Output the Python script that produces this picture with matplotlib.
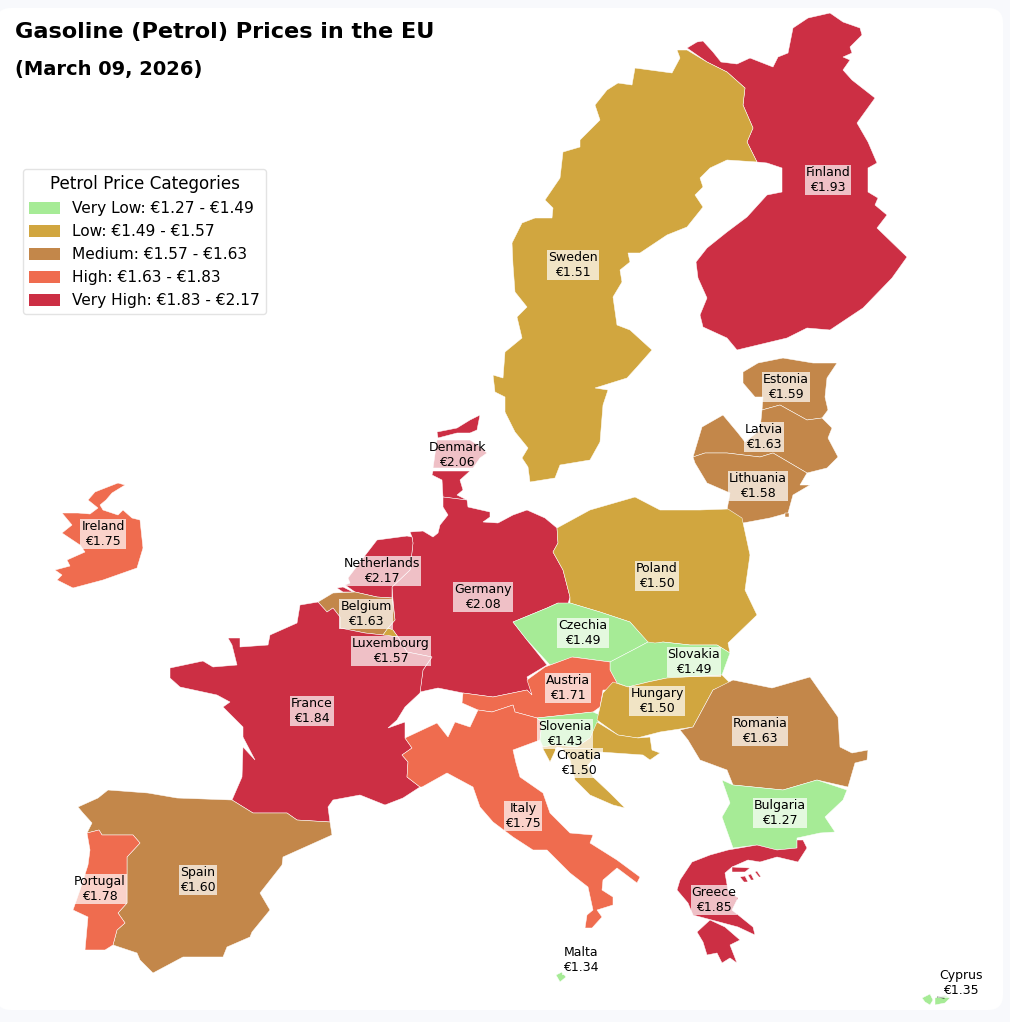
import matplotlib.pyplot as plt
from matplotlib.patches import FancyBboxPatch, Patch
import numpy as np

# outlines, in pixels of the 1010x1022 image
finland = [[(687,48),(697,42),(703,41),(713,52),(721,62),(737,64),(750,58),(773,67),(778,57),(788,53),(793,28),(808,18),(830,13),(843,22),(860,28),(862,35),(850,47),(852,53),(843,57),(850,60),(843,70),(852,80),(875,98),(857,123),(868,142),(877,163),(868,168),(868,192),(878,198),(875,205),(887,215),(877,228),(907,257),(892,278),(863,308),(830,330),(807,328),(787,338),(737,350),(727,338),(703,327),(700,315),(707,298),(698,278),(696,262),(707,248),(727,232),(747,217),(767,195),(782,192),(782,168),(767,163),(757,162),(747,142),(753,128),(743,105),(745,88),(727,72),(707,62)]]
sweden = [[(677,50),(687,50),(707,62),(727,72),(745,88),(743,105),(753,128),(747,142),(757,162),(727,160),(710,168),(700,178),(703,187),(695,195),(703,207),(687,227),(667,235),(640,253),(628,253),(630,262),(620,270),(622,282),(613,297),(617,325),(630,330),(652,350),(637,367),(627,378),(595,388),(608,390),(603,405),(600,442),(590,460),(560,465),(555,478),(530,482),(528,467),(522,458),(528,448),(515,432),(505,412),(505,397),(495,392),(493,375),(503,378),(505,352),(522,338),(517,317),(527,307),(515,292),(513,265),(512,243),(522,223),(535,218),(552,218),(553,208),(545,200),(560,178),(563,152),(580,147),(580,140),(600,120),(595,105),(607,90),(618,83),(632,85),(635,68),(672,73),(680,58)]]
estonia = [[(743,372),(758,363),(783,358),(813,363),(837,363),(827,378),(825,397),(828,410),(822,418),(807,420),(780,405),(762,410),(763,397),(755,397),(743,383)]]
latvia = [[(693,457),(702,427),(723,415),(738,433),(745,442),(760,430),(762,410),(780,405),(807,420),(822,418),(832,428),(828,438),(838,457),(827,468),(807,473),(773,453),(760,457),(727,453),(705,453)]]
lithuania = [[(693,457),(705,453),(727,453),(760,457),(773,453),(807,473),(800,485),(810,485),(793,495),(788,513),(770,518),(743,523),(727,510),(730,493),(707,483),(695,463)],
             [(785,513),(789,513),(789,517),(785,517)]]
denmark = [[(480,415),(477,430),(470,433),(457,433),(438,438),(437,432),(457,428),(470,420)],
           [(437,440),(470,440),(478,445),(487,453),(480,458),(473,468),(433,468)],
           [(433,471),(470,471),(460,480),(463,490),(457,495),(467,500),(443,497),(442,480),(432,475)]]
germany = [[(443,497),(467,500),(468,507),(490,512),(490,517),(483,522),(498,523),(513,515),(527,510),(545,518),(557,528),(558,543),(553,552),(563,570),(570,597),(567,607),(558,603),(547,608),(513,622),(527,640),(547,665),(527,677),(532,695),(527,690),(493,697),(478,695),(463,693),(438,688),(420,692),(423,670),(432,657),(407,652),(398,637),(393,630),(388,628),(395,620),(393,600),(392,587),(410,570),(413,543),(412,537),(410,532),(423,531),(433,537),(438,533),(440,525),(448,515),(443,507)]]
netherlands = [[(412,537),(407,536),(377,540),(367,553),(348,578),(350,583),(345,585),(355,592),(377,597),(392,598),(392,587),(410,570),(413,543)],
               [(337,588),(343,587),(353,592),(343,592)]]
belgium = [[(318,602),(333,593),(355,592),(377,597),(392,598),(395,620),(388,628),(383,635),(365,633),(340,628),(340,617),(333,608),(327,612)]]
luxembourg = [[(383,635),(388,628),(393,630),(398,637)]]
france = [[(170,668),(203,661),(213,667),(237,665),(232,645),(228,638),(240,638),(240,647),(268,645),(270,635),(297,623),(300,605),(318,602),(327,612),(333,608),(340,617),(340,628),(365,633),(383,635),(398,637),(407,652),(432,657),(423,670),(420,693),(405,707),(397,720),(388,728),(405,722),(405,738),(412,748),(402,755),(408,762),(407,777),(420,787),(403,798),(385,805),(360,795),(333,800),(328,807),(330,822),(297,820),(287,813),(253,813),(232,800),(242,777),(243,747),(255,760),(243,737),(243,727),(223,707),(230,702),(217,695),(180,687),(170,678)]]
spain = [[(78,807),(98,798),(108,790),(148,793),(177,798),(232,800),(253,813),(287,813),(297,820),(330,822),(332,835),(283,857),(282,865),(260,893),(270,910),(252,932),(250,937),(227,947),(223,957),(183,957),(153,973),(140,960),(137,953),(113,945),(117,930),(125,923),(118,913),(127,903),(127,857),(140,843),(133,835),(102,835),(99,830),(87,833),(92,823),(83,813)]]
portugal = [[(87,833),(99,830),(102,835),(133,835),(140,843),(127,857),(127,903),(118,913),(125,923),(117,930),(113,945),(105,950),(85,950),(88,917),(73,910),(80,890),(88,865),(90,850)]]
ireland = [[(100,490),(118,483),(125,485),(112,493),(106,500),(100,505),(103,510),(118,515),(123,510),(132,518),(140,520),(143,548),(137,568),(103,580),(73,588),(57,580),(62,575),(55,570),(70,566),(67,560),(85,552),(80,545),(62,533),(72,525),(62,513),(78,513),(90,514),(98,508),(88,500),(95,492)]]
poland = [[(557,528),(590,510),(635,497),(660,510),(700,510),(728,509),(742,518),(750,555),(745,590),(757,615),(728,643),(730,653),(717,645),(690,645),(663,642),(650,645),(630,622),(600,612),(570,603),(570,597),(563,570),(553,552),(558,543)]]
czechia = [[(513,622),(547,608),(558,603),(570,603),(600,612),(630,622),(648,642),(633,650),(610,662),(573,657),(550,665),(527,640)]]
slovakia = [[(610,662),(633,650),(648,642),(655,643),(663,642),(690,645),(717,645),(730,653),(722,675),(667,678),(648,682),(628,687),(617,683),(610,670)]]
austria = [[(463,693),(478,695),(493,697),(527,690),(532,695),(527,680),(545,667),(572,657),(610,662),(610,670),(617,683),(613,690),(603,690),(600,707),(593,712),(537,718),(515,712),(513,705),(492,712),(478,710),(462,703)]]
italy = [[(405,738),(437,723),(448,737),(455,722),(470,727),(478,710),(492,712),(513,705),(515,712),(537,718),(542,722),(540,740),(513,750),(516,763),(520,777),(543,793),(550,813),(570,833),(593,835),(590,843),(617,860),(640,877),(637,883),(617,868),(603,880),(602,890),(613,897),(613,905),(597,910),(602,917),(592,928),(585,928),(587,915),(593,910),(588,887),(570,873),(547,850),(533,850),(513,837),(493,822),(480,807),(473,787),(447,773),(422,787),(420,787),(407,777),(408,762),(402,755),(412,748)]]
slovenia = [[(537,718),(593,712),(600,715),(597,725),(590,738),(577,747),(555,745),(543,747),(540,740),(542,722)]]
hungary = [[(613,682),(628,687),(648,682),(667,678),(722,675),(730,683),(713,690),(693,727),(660,732),(637,738),(618,735),(597,720),(600,707),(603,693)]]
croatia = [[(577,747),(590,738),(597,722),(618,735),(638,738),(650,737),(652,750),(660,753),(650,760),(643,755),(600,752),(588,765),(593,777),(610,793),(625,808),(613,805),(590,795),(575,780),(570,760),(562,748),(557,747),(550,762),(542,747),(555,745)]]
romania = [[(733,680),(772,688),(810,677),(838,717),(840,747),(852,753),(868,750),(867,760),(855,763),(848,787),(817,780),(783,790),(733,785),(727,770),(700,760),(688,740),(680,730),(693,727),(713,690)]]
bulgaria = [[(722,780),(733,785),(783,790),(817,780),(847,790),(843,800),(825,817),(835,832),(820,833),(797,838),(797,848),(777,850),(757,845),(733,848),(722,817),(730,803)]]
greece = [[(728,850),(757,845),(777,850),(797,848),(797,840),(803,840),(807,848),(798,862),(777,857),(760,862),(748,860),(732,867),(725,873),(728,890),(738,898),(732,910),(753,927),(755,935),(738,927),(693,915),(688,903),(677,890),(680,880),(692,862),(710,855)],
          [(697,932),(710,920),(725,927),(740,940),(730,945),(737,963),(730,958),(722,963),(717,953),(707,955),(703,942)],
          [(732,867),(750,868),(745,872),(732,872)],
          [(740,877),(745,876),(748,882),(744,882)],
          [(748,875),(751,874),(754,880),(751,880)],
          [(755,872),(757,871),(761,877),(759,877)]]
malta = [[(556,975),(562,972),(566,977),(560,982)]]
cyprus = [[(922,998),(930,994),(933,1000),(930,1005),(925,1002)],
          [(935,998),(945,995),(950,998),(945,1003),(935,1005)]]

countries = ['Finland', 'Sweden', 'Estonia', 'Latvia', 'Lithuania', 'Denmark', 'Germany', 'Netherlands', 'Belgium',
             'Luxembourg', 'France', 'Spain', 'Portugal', 'Ireland', 'Poland', 'Czechia', 'Slovakia', 'Austria',
             'Italy', 'Slovenia', 'Hungary', 'Croatia', 'Romania', 'Bulgaria', 'Greece', 'Malta', 'Cyprus']
prices = [1.93, 1.51, 1.59, 1.63, 1.58, 2.06, 2.08, 2.17, 1.63,
          1.57, 1.84, 1.60, 1.78, 1.75, 1.50, 1.49, 1.49, 1.71,
          1.75, 1.43, 1.50, 1.50, 1.63, 1.27, 1.85, 1.34, 1.35]
outlines = [finland, sweden, estonia, latvia, lithuania, denmark, germany, netherlands, belgium,
            luxembourg, france, spain, portugal, ireland, poland, czechia, slovakia, austria,
            italy, slovenia, hungary, croatia, romania, bulgaria, greece, malta, cyprus]
label_x = [828, 573, 786, 764, 758, 457, 483, 382, 366, 391, 312, 198, 100, 103, 657, 583, 694, 568, 523, 565, 657, 579, 760, 780, 714, 581, 961]
label_y = [180, 265, 387, 437, 486, 455, 597, 571, 614, 651, 711, 880, 889, 534, 576, 633, 662, 688, 816, 734, 701, 763, 731, 813, 900, 960, 983]

bin_edges = [1.49, 1.57, 1.63, 1.83]
category_names = ['Very Low: €1.27 - €1.49', 'Low: €1.49 - €1.57', 'Medium: €1.57 - €1.63',
                  'High: €1.63 - €1.83', 'Very High: €1.83 - €2.17']
category_colors = ['#a6eb96', '#d1a63f', '#c3874a', '#ef6c4f', '#cc2f44']

fig = plt.figure(figsize=(10.10, 10.22), dpi=100, facecolor='#f8f9fc')
ax = fig.add_axes([0, 0, 1, 1])
ax.set_xlim(0, 1010)
ax.set_ylim(1022, 0)
ax.axis('off')

# white card behind the map
ax.add_patch(FancyBboxPatch((-4, 8), 1007, 1002, boxstyle='round,pad=0,rounding_size=15',
                            facecolor='white', edgecolor='none', zorder=0))

for rings, price in zip(outlines, prices):
    color = category_colors[np.searchsorted(bin_edges, price, side='left')]
    for ring in rings:
        xs, ys = zip(*ring)
        ax.fill(xs, ys, facecolor=color, edgecolor='white', linewidth=0.35, zorder=2)

for name, price, x, y in zip(countries, prices, label_x, label_y):
    ax.text(x, y, f'{name}\n€{price:.2f}', ha='center', va='center', fontsize=9, color='black', zorder=5,
            linespacing=1.25, bbox=dict(boxstyle='square,pad=0.08', facecolor='white', edgecolor='none', alpha=0.7))

# small leader on Cyprus
ax.plot([938, 944], [997, 998], color='black', linewidth=0.7, zorder=4)

ax.text(15, 32, 'Gasoline (Petrol) Prices in the EU', fontsize=16.15, fontweight='bold', va='center', ha='left')
ax.text(15, 70, '(March 09, 2026)', fontsize=14, fontweight='bold', va='center', ha='left')

handles = [Patch(facecolor=c, edgecolor='none', label=n) for c, n in zip(category_colors, category_names)]
ax.legend(handles=handles, title='Petrol Price Categories', loc='upper left',
          bbox_to_anchor=(23 / 1010, 1 - 169 / 1022), borderaxespad=0, fontsize=11.1, title_fontsize=12.1,
          framealpha=0.8, edgecolor='#dddddd', labelspacing=0.52, handleheight=0.85)

fig.savefig('out.png', dpi=100, facecolor=fig.get_facecolor())
